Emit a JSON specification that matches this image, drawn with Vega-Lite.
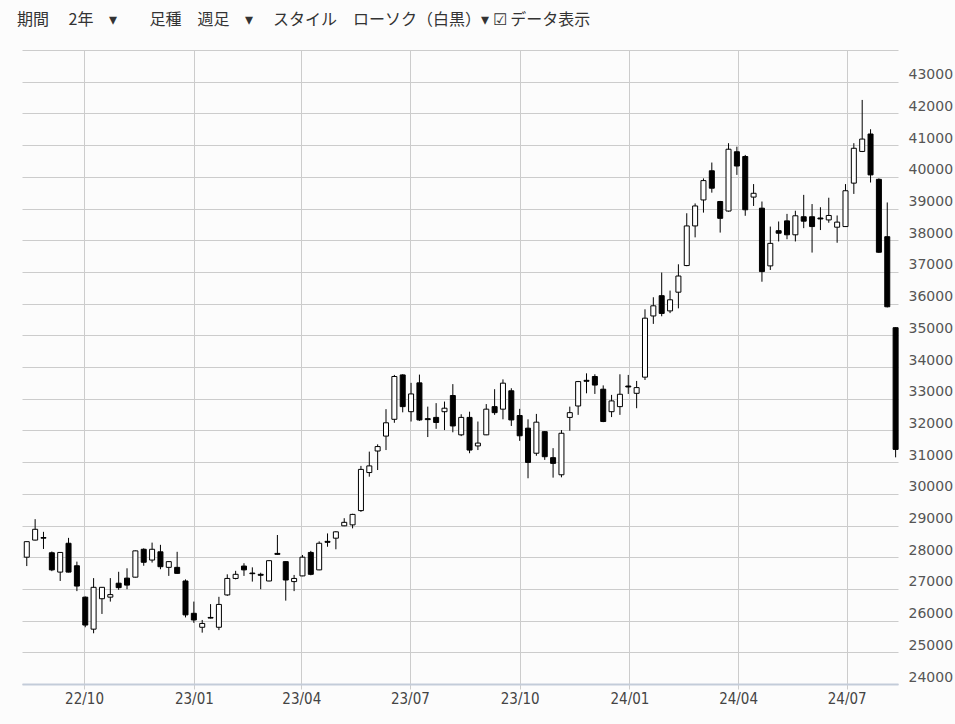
{
  "$schema": "https://vega.github.io/schema/vega-lite/v6.json",
  "width": 876,
  "height": 634,
  "autosize": {"type": "none"},
  "padding": {"left": 22, "top": 50, "right": 57, "bottom": 40},
  "background": "#fcfcfc",
  "title": {
    "text": "期間　 2年　▾　　足種　週足　▾　 スタイル　ローソク（白黒）▾ ☑ データ表示",
    "anchor": "start",
    "frame": "group",
    "dx": -5,
    "offset": 8,
    "font": "Noto Sans CJK JP",
    "fontSize": 16,
    "fontWeight": "normal",
    "color": "#333333"
  },
  "config": {
    "view": {"stroke": null},
    "axis": {"gridColor": "#cccccc", "gridWidth": 1}
  },
  "data": {
    "values": [
      {"d": "2022-08-14", "o": 28000, "h": 28500, "l": 27720, "c": 28490},
      {"d": "2022-08-21", "o": 28540, "h": 29200, "l": 28530, "c": 28880},
      {"d": "2022-08-28", "o": 28620, "h": 28800, "l": 28260, "c": 28600},
      {"d": "2022-09-04", "o": 28140, "h": 28180, "l": 27560, "c": 27600},
      {"d": "2022-09-11", "o": 27530, "h": 28160, "l": 27250, "c": 28150},
      {"d": "2022-09-18", "o": 28440, "h": 28610, "l": 27520, "c": 27530},
      {"d": "2022-09-25", "o": 27730, "h": 27860, "l": 26930, "c": 27090},
      {"d": "2022-10-02", "o": 26740, "h": 26760, "l": 25790, "c": 25860},
      {"d": "2022-10-09", "o": 25730, "h": 27340, "l": 25600, "c": 27050},
      {"d": "2022-10-16", "o": 26690, "h": 27060, "l": 26210, "c": 27050},
      {"d": "2022-10-23", "o": 26740, "h": 27340, "l": 26600, "c": 26820},
      {"d": "2022-10-30", "o": 27180, "h": 27540, "l": 26970, "c": 27040},
      {"d": "2022-11-06", "o": 27340, "h": 27650, "l": 26990, "c": 27120},
      {"d": "2022-11-13", "o": 27370, "h": 28210, "l": 27360, "c": 28200},
      {"d": "2022-11-20", "o": 28250, "h": 28280, "l": 27730, "c": 27840},
      {"d": "2022-11-27", "o": 27910, "h": 28460, "l": 27830, "c": 28250},
      {"d": "2022-12-04", "o": 28170, "h": 28390, "l": 27620, "c": 27700},
      {"d": "2022-12-11", "o": 27680, "h": 27870, "l": 27410, "c": 27860},
      {"d": "2022-12-18", "o": 27680, "h": 28170, "l": 27480, "c": 27490},
      {"d": "2022-12-25", "o": 27250, "h": 27300, "l": 26100, "c": 26180},
      {"d": "2023-01-01", "o": 26230, "h": 26600, "l": 25930, "c": 26020},
      {"d": "2023-01-08", "o": 25790, "h": 26020, "l": 25620, "c": 25910},
      {"d": "2023-01-15", "o": 26100, "h": 26520, "l": 26070, "c": 26080},
      {"d": "2023-01-22", "o": 25790, "h": 26750, "l": 25700, "c": 26510},
      {"d": "2023-01-29", "o": 26810, "h": 27460, "l": 26780, "c": 27330},
      {"d": "2023-02-05", "o": 27330, "h": 27570, "l": 27300, "c": 27460},
      {"d": "2023-02-12", "o": 27720, "h": 27810, "l": 27410, "c": 27600},
      {"d": "2023-02-19", "o": 27500, "h": 27680, "l": 27230, "c": 27480},
      {"d": "2023-02-26", "o": 27460, "h": 27510, "l": 26990, "c": 27430},
      {"d": "2023-03-05", "o": 27250, "h": 27900, "l": 27240, "c": 27890},
      {"d": "2023-03-12", "o": 28120, "h": 28700, "l": 28080, "c": 28090},
      {"d": "2023-03-19", "o": 27860, "h": 27870, "l": 26630, "c": 27280},
      {"d": "2023-03-26", "o": 27230, "h": 27440, "l": 26930, "c": 27330},
      {"d": "2023-04-02", "o": 27410, "h": 28070, "l": 27400, "c": 28000},
      {"d": "2023-04-09", "o": 28150, "h": 28200, "l": 27430, "c": 27460},
      {"d": "2023-04-16", "o": 27600, "h": 28500, "l": 27590, "c": 28440},
      {"d": "2023-04-23", "o": 28500, "h": 28750, "l": 28330, "c": 28470},
      {"d": "2023-04-30", "o": 28600, "h": 28820, "l": 28250, "c": 28800},
      {"d": "2023-05-07", "o": 28990, "h": 29230, "l": 28980, "c": 29100},
      {"d": "2023-05-14", "o": 29020, "h": 29370, "l": 28910, "c": 29350},
      {"d": "2023-05-21", "o": 29470, "h": 30880, "l": 29430, "c": 30770},
      {"d": "2023-05-28", "o": 30670, "h": 31330, "l": 30540, "c": 30880},
      {"d": "2023-06-04", "o": 31350, "h": 31560, "l": 30750, "c": 31490},
      {"d": "2023-06-11", "o": 31820, "h": 32670, "l": 31380, "c": 32240},
      {"d": "2023-06-18", "o": 32350, "h": 33750, "l": 32240, "c": 33700},
      {"d": "2023-06-25", "o": 33750, "h": 33770, "l": 32570, "c": 32750},
      {"d": "2023-07-02", "o": 32590, "h": 33500, "l": 32280, "c": 33150},
      {"d": "2023-07-09", "o": 33500, "h": 33760, "l": 32300, "c": 32330},
      {"d": "2023-07-16", "o": 32370, "h": 32750, "l": 31790, "c": 32340},
      {"d": "2023-07-23", "o": 32410, "h": 32860, "l": 32050, "c": 32250},
      {"d": "2023-07-30", "o": 32590, "h": 32910, "l": 32010, "c": 32700},
      {"d": "2023-08-06", "o": 33100, "h": 33460, "l": 31940, "c": 32140},
      {"d": "2023-08-13", "o": 31860, "h": 32510, "l": 31820, "c": 32410},
      {"d": "2023-08-20", "o": 32410, "h": 32590, "l": 31280, "c": 31380},
      {"d": "2023-08-27", "o": 31510, "h": 32280, "l": 31380, "c": 31600},
      {"d": "2023-09-03", "o": 31860, "h": 32830, "l": 31850, "c": 32670},
      {"d": "2023-09-10", "o": 32750, "h": 33300, "l": 32490, "c": 32560},
      {"d": "2023-09-17", "o": 32670, "h": 33610, "l": 32350, "c": 33490},
      {"d": "2023-09-24", "o": 33250, "h": 33330, "l": 32140, "c": 32330},
      {"d": "2023-10-01", "o": 32470, "h": 32680, "l": 31670, "c": 31830},
      {"d": "2023-10-08", "o": 32070, "h": 32350, "l": 30490, "c": 30990},
      {"d": "2023-10-15", "o": 31280, "h": 32520, "l": 31200, "c": 32260},
      {"d": "2023-10-22", "o": 31960, "h": 31980, "l": 31070, "c": 31170},
      {"d": "2023-10-29", "o": 31140, "h": 31440, "l": 30510, "c": 30960},
      {"d": "2023-11-05", "o": 30600, "h": 32010, "l": 30520, "c": 31910},
      {"d": "2023-11-12", "o": 32410, "h": 32750, "l": 31990, "c": 32560},
      {"d": "2023-11-19", "o": 32770, "h": 33560, "l": 32490, "c": 33540},
      {"d": "2023-11-26", "o": 33580, "h": 33800, "l": 33170, "c": 33550},
      {"d": "2023-12-03", "o": 33700, "h": 33770, "l": 33150, "c": 33430},
      {"d": "2023-12-10", "o": 33300, "h": 33420, "l": 32260, "c": 32280},
      {"d": "2023-12-17", "o": 32590, "h": 33120, "l": 32420, "c": 32930},
      {"d": "2023-12-24", "o": 32750, "h": 33770, "l": 32490, "c": 33140},
      {"d": "2023-12-31", "o": 33400, "h": 33750, "l": 33150, "c": 33370},
      {"d": "2024-01-07", "o": 33170, "h": 33560, "l": 32700, "c": 33350},
      {"d": "2024-01-14", "o": 33680, "h": 35820, "l": 33590, "c": 35540},
      {"d": "2024-01-21", "o": 35610, "h": 36200, "l": 35360, "c": 35930},
      {"d": "2024-01-28", "o": 36250, "h": 36980, "l": 35600, "c": 35690},
      {"d": "2024-02-04", "o": 35770, "h": 36410, "l": 35700, "c": 36120},
      {"d": "2024-02-11", "o": 36360, "h": 37240, "l": 35850, "c": 36870},
      {"d": "2024-02-18", "o": 37200, "h": 38850, "l": 37180, "c": 38450},
      {"d": "2024-02-25", "o": 38450, "h": 39160, "l": 38090, "c": 39080},
      {"d": "2024-03-03", "o": 39270, "h": 39950, "l": 38870, "c": 39880},
      {"d": "2024-03-10", "o": 40190, "h": 40450, "l": 39500, "c": 39640},
      {"d": "2024-03-17", "o": 39220, "h": 39240, "l": 38240, "c": 38690},
      {"d": "2024-03-24", "o": 38920, "h": 41060, "l": 38900, "c": 40870},
      {"d": "2024-03-31", "o": 40790, "h": 40950, "l": 40060, "c": 40340},
      {"d": "2024-04-07", "o": 40640, "h": 40690, "l": 38770, "c": 38960},
      {"d": "2024-04-14", "o": 39360, "h": 39770, "l": 39080, "c": 39480},
      {"d": "2024-04-21", "o": 39010, "h": 39220, "l": 36690, "c": 37010},
      {"d": "2024-04-28", "o": 37190, "h": 38430, "l": 37060, "c": 37900},
      {"d": "2024-05-05", "o": 38300, "h": 38590, "l": 37960, "c": 38220},
      {"d": "2024-05-12", "o": 38610, "h": 38830, "l": 38030, "c": 38170},
      {"d": "2024-05-19", "o": 38170, "h": 38930, "l": 37960, "c": 38770},
      {"d": "2024-05-26", "o": 38740, "h": 39430, "l": 38380, "c": 38600},
      {"d": "2024-06-02", "o": 38740, "h": 39140, "l": 37610, "c": 38430},
      {"d": "2024-06-09", "o": 38700, "h": 39040, "l": 38320, "c": 38670},
      {"d": "2024-06-16", "o": 38640, "h": 39340, "l": 38550, "c": 38780},
      {"d": "2024-06-23", "o": 38410, "h": 38780, "l": 37920, "c": 38570},
      {"d": "2024-06-30", "o": 38430, "h": 39770, "l": 38420, "c": 39560},
      {"d": "2024-07-07", "o": 39800, "h": 41060, "l": 39460, "c": 40900},
      {"d": "2024-07-14", "o": 40800, "h": 42425, "l": 40780, "c": 41190},
      {"d": "2024-07-21", "o": 41350, "h": 41500, "l": 39820, "c": 40060},
      {"d": "2024-07-28", "o": 39920, "h": 39950, "l": 37600, "c": 37620},
      {"d": "2024-08-04", "o": 38110, "h": 39190, "l": 35880, "c": 35900},
      {"d": "2024-08-11", "o": 35240, "h": 35250, "l": 31150, "c": 31400}
    ]
  },
  "encoding": {
    "x": {
      "field": "d",
      "type": "temporal",
      "scale": {
        "type": "utc",
        "padding": 0,
        "domain": [
          {"year": 2022, "month": 8, "date": 10, "utc": true},
          {"year": 2024, "month": 8, "date": 13, "utc": true}
        ]
      },
      "axis": {
        "title": null,
        "values": [
          {"year": 2022, "month": 10, "date": 1, "utc": true},
          {"year": 2023, "month": 1, "date": 1, "utc": true},
          {"year": 2023, "month": 4, "date": 1, "utc": true},
          {"year": 2023, "month": 7, "date": 1, "utc": true},
          {"year": 2023, "month": 10, "date": 1, "utc": true},
          {"year": 2024, "month": 1, "date": 1, "utc": true},
          {"year": 2024, "month": 4, "date": 1, "utc": true},
          {"year": 2024, "month": 7, "date": 1, "utc": true}
        ],
        "labelExpr": "utcFormat(datum.value, '%y/%m')",
        "grid": true,
        "domainColor": "#c3ccd9",
        "domainWidth": 2,
        "ticks": true,
        "tickSize": 5,
        "tickColor": "#cccccc",
        "labelPadding": 2,
        "labelFont": "DejaVu Sans Condensed, DejaVu Sans",
        "labelFontSize": 15,
        "labelColor": "#444444",
        "labelFlush": false
      }
    },
    "y": {
      "type": "quantitative",
      "scale": {"domain": [24000, 44000], "zero": false, "nice": false},
      "axis": {
        "title": null,
        "orient": "right",
        "values": [24000, 25000, 26000, 27000, 28000, 29000, 30000, 31000, 32000, 33000, 34000, 35000, 36000, 37000, 38000, 39000, 40000, 41000, 42000, 43000, 44000],
        "format": "d",
        "labelExpr": "datum.value >= 44000 ? '' : datum.label",
        "grid": true,
        "domain": false,
        "ticks": false,
        "tickSize": 0,
        "labelPadding": 10,
        "labelAlign": "left",
        "labelBaseline": "bottom",
        "labelFont": "DejaVu Sans",
        "labelFontSize": 14,
        "labelColor": "#555555",
        "labelFlush": false,
        "labelOverlap": false
      }
    }
  },
  "layer": [
    {
      "mark": {"type": "rule", "color": "black", "strokeWidth": 1},
      "encoding": {
        "y": {"field": "l", "type": "quantitative"},
        "y2": {"field": "h"}
      }
    },
    {
      "mark": {"type": "bar", "width": 5, "stroke": "black", "strokeWidth": 1},
      "encoding": {
        "y": {"field": "o", "type": "quantitative"},
        "y2": {"field": "c"},
        "fill": {
          "condition": {"test": "datum.c >= datum.o", "value": "white"},
          "value": "black"
        }
      }
    }
  ]
}
